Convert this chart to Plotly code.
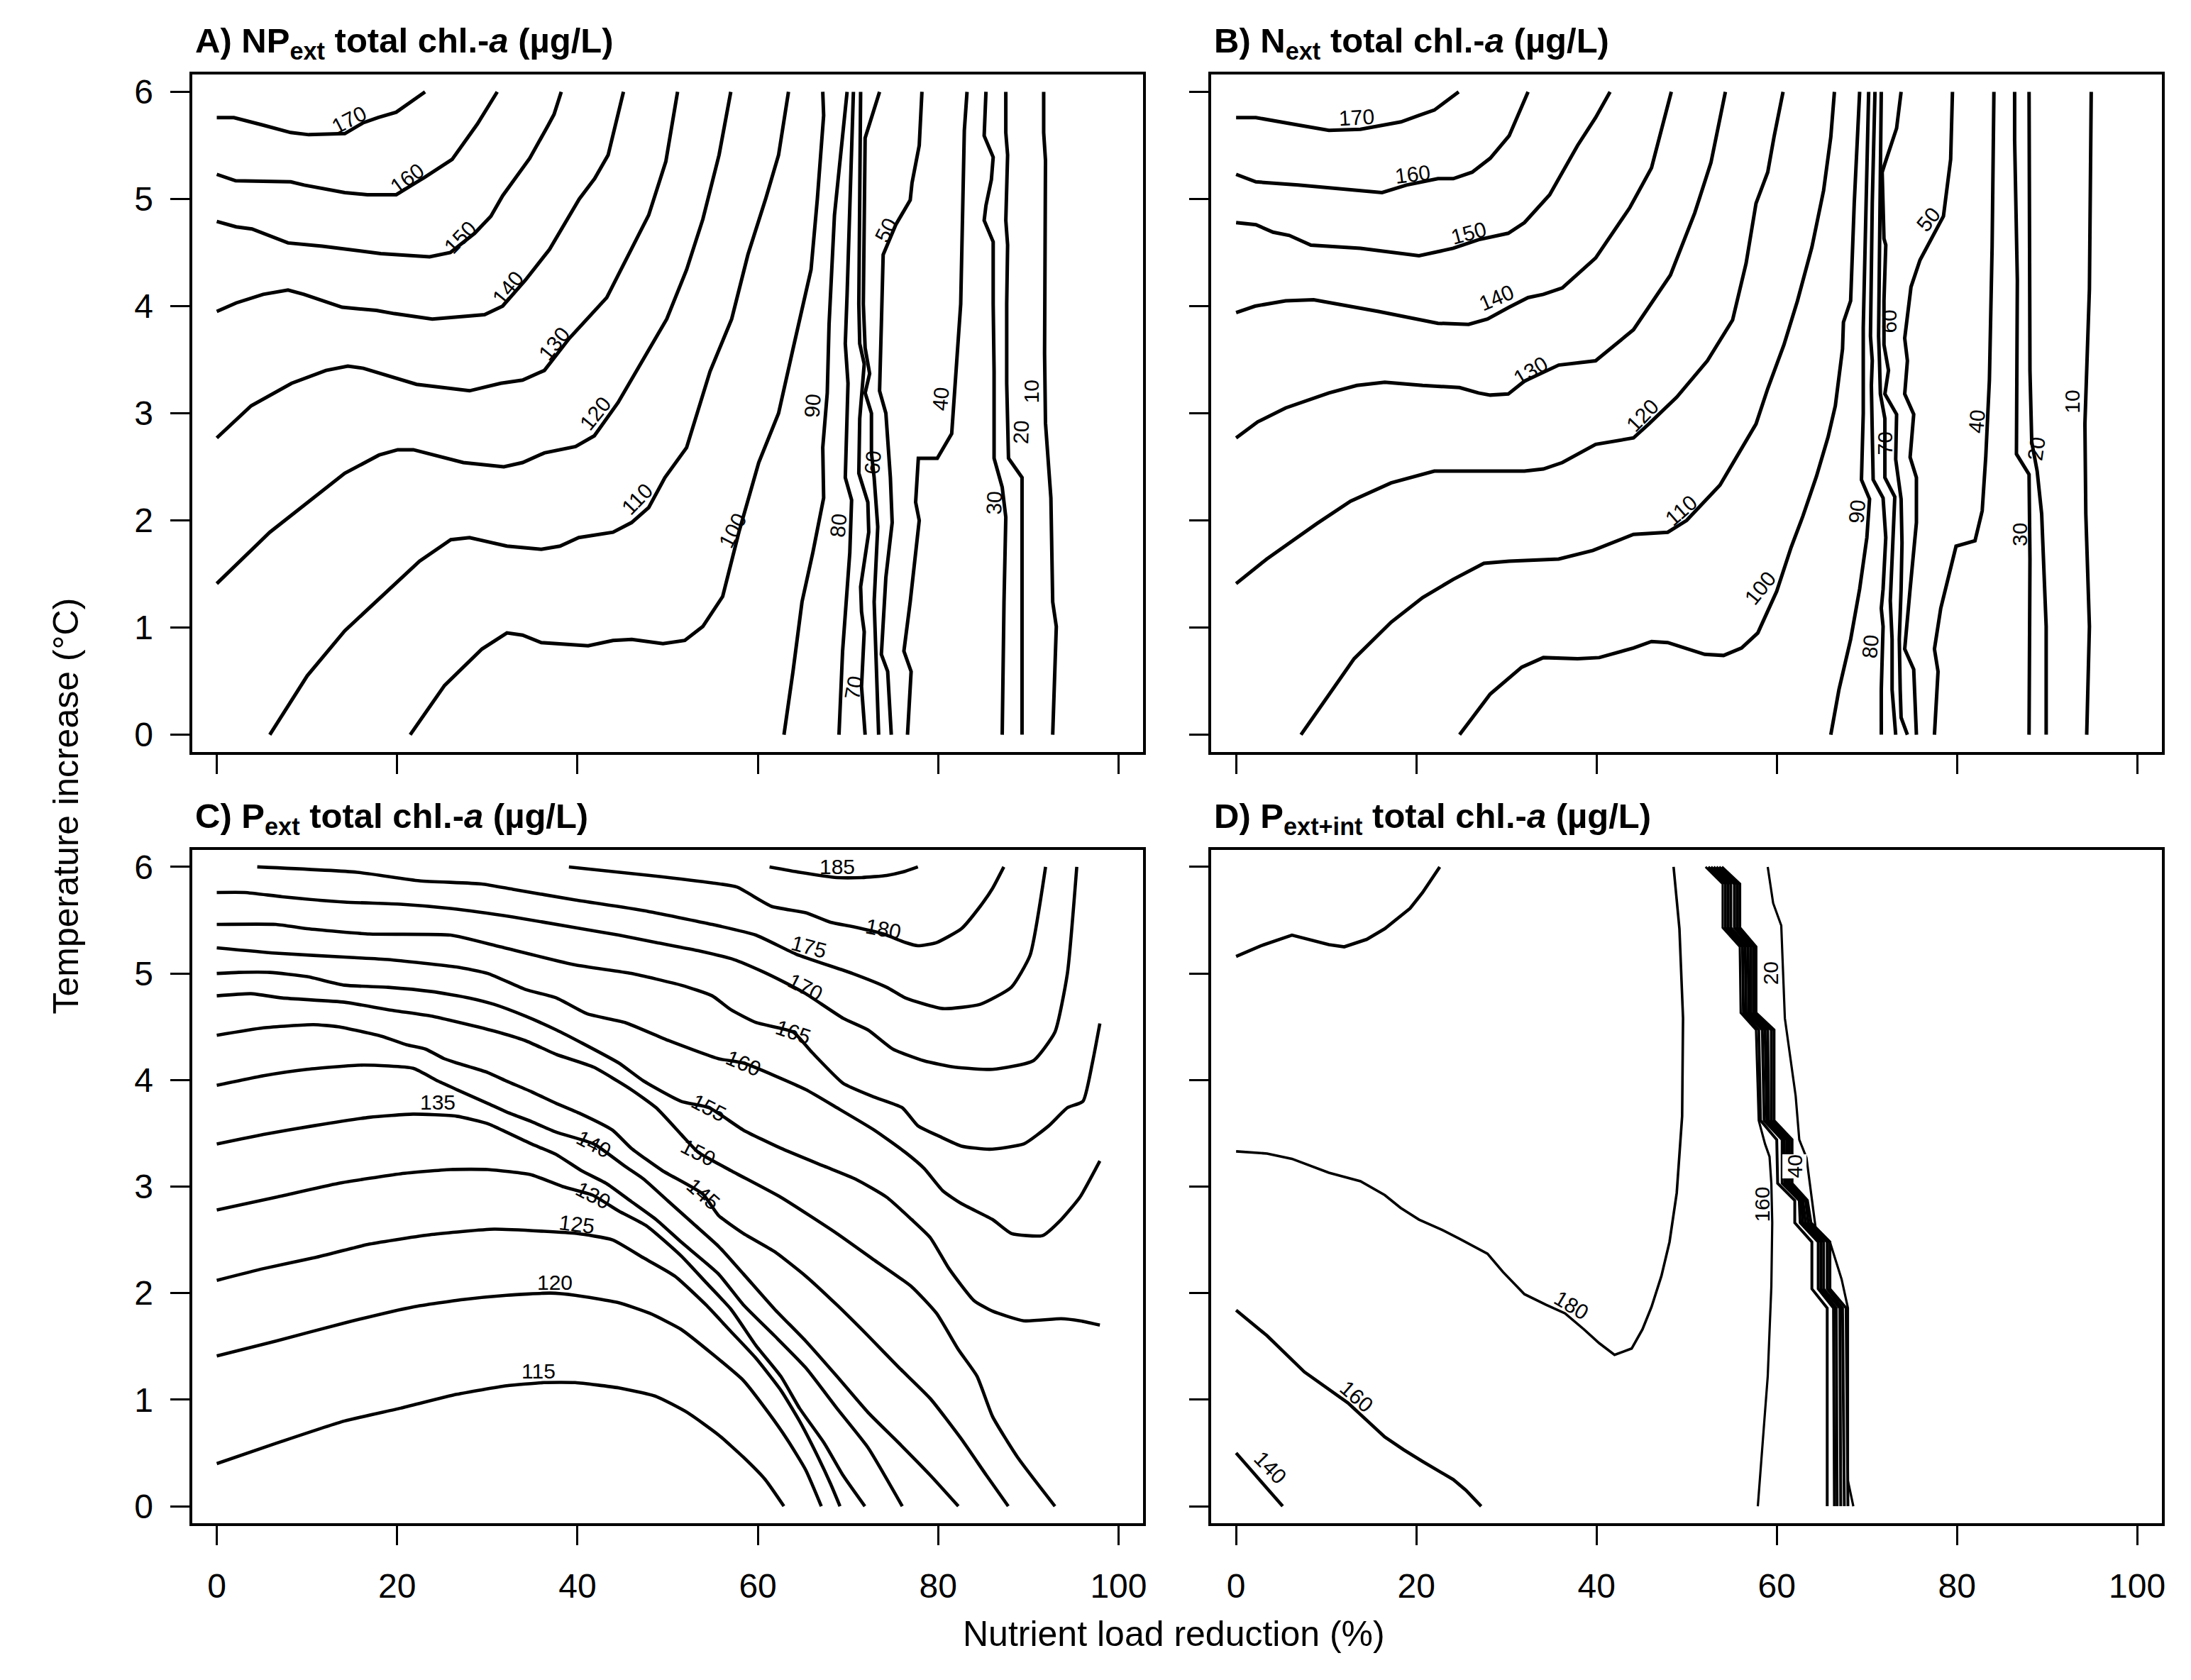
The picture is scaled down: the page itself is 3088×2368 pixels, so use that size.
import plotly.graph_objects as go

FONT = "Liberation Sans, Arial, Helvetica, sans-serif"

X_TICKS = [0, 20, 40, 60, 80, 100]
Y_TICKS = [0, 1, 2, 3, 4, 5, 6]

TITLES = [
    "<b>A) NP<sub>ext</sub> total chl.-<i>a</i> (µg/L)</b>",
    "<b>B) N<sub>ext</sub> total chl.-<i>a</i> (µg/L)</b>",
    "<b>C) P<sub>ext</sub> total chl.-<i>a</i> (µg/L)</b>",
    "<b>D) P<sub>ext+int</sub> total chl.-<i>a</i> (µg/L)</b>",
]

# ---------------- A) NPext : contour lines ----------------
A170_X = [0, 1.9, 5.1, 8.2, 10.2, 14.2, 16.2, 17.9, 19.9, 23.1]
A170_Y = [5.76, 5.76, 5.69, 5.62, 5.60, 5.61, 5.71, 5.76, 5.81, 6.0]
A160_X = [0, 2.1, 8.2, 9.7, 14.2, 16.7, 19.9, 23.0, 26.1, 28.9, 31.1]
A160_Y = [5.23, 5.17, 5.16, 5.13, 5.06, 5.04, 5.04, 5.20, 5.37, 5.70, 6.0]
A150_X = [0, 2.15, 3.9, 7.9, 11.7, 18.2, 23.6, 25.9, 28.6, 30.4, 31.7, 34.7, 36.7, 37.4, 38.2]
A150_Y = [4.79, 4.74, 4.72, 4.59, 4.56, 4.49, 4.46, 4.50, 4.68, 4.84, 5.03, 5.38, 5.68, 5.79, 6.0]
A140_X = [0, 2.15, 5.15, 7.9, 9.66, 13.9, 17.7, 19.7, 23.9, 26.7, 29.7, 31.7, 34.2, 36.9, 40.2, 41.9, 43.4, 45.1]
A140_Y = [3.95, 4.03, 4.11, 4.15, 4.11, 3.99, 3.96, 3.93, 3.88, 3.90, 3.92, 4.0, 4.24, 4.53, 5.0, 5.19, 5.41, 6.0]
A130_X = [0, 3.81, 8.30, 12.11, 14.53, 16.26, 22.15, 28.03, 31.49, 33.91, 36.33, 39.10, 43.25, 45.5, 47.9, 49.8, 51.1]
A130_Y = [2.77, 3.07, 3.28, 3.40, 3.44, 3.42, 3.27, 3.21, 3.28, 3.31, 3.40, 3.70, 4.08, 4.45, 4.85, 5.35, 6.0]
A120_X = [0, 5.88, 14.19, 17.99, 20.07, 21.80, 27.34, 31.83, 33.91, 36.33, 39.79, 41.87, 44.5, 47.3, 49.9, 52.1, 53.9, 55.7, 57.0]
A120_Y = [1.41, 1.89, 2.44, 2.61, 2.66, 2.66, 2.54, 2.50, 2.54, 2.63, 2.69, 2.79, 3.10, 3.51, 3.88, 4.34, 4.81, 5.41, 6.0]
A110_X = [5.88, 10.03, 14.19, 18.34, 22.49, 25.95, 28.03, 32.18, 35.99, 38.06, 40.14, 43.94, 46.0, 47.9, 49.7,
          52.1, 54.7, 57.1, 58.9, 60.9, 62.3, 63.4]
A110_Y = [0, 0.55, 0.97, 1.30, 1.62, 1.82, 1.84, 1.76, 1.73, 1.76, 1.84, 1.89, 1.98, 2.12, 2.40,
          2.68, 3.39, 3.88, 4.48, 5.01, 5.41, 6.0]
A100_X = [21.45, 25.26, 29.41, 32.18, 33.91, 35.99, 41.18, 43.94, 46.02, 49.48, 51.9, 53.9, 56.1, 57.9,
          60.1, 62.3, 63.9, 65.9, 66.6, 67.3, 67.2]
A100_Y = [0, 0.46, 0.80, 0.95, 0.93, 0.86, 0.83, 0.88, 0.89, 0.85, 0.88, 1.01, 1.29, 1.89,
          2.54, 3.0, 3.60, 4.34, 5.0, 5.78, 6.0]
A90_X = [69.9, 69.2, 68.5, 67.9, 67.7, 67.2, 67.3, 66.1, 64.9, 63.9, 62.9]
A90_Y = [6.0, 5.45, 4.85, 3.83, 3.19, 2.68, 2.21, 1.70, 1.24, 0.59, 0]
A80_X = [70.6, 70.4, 70.2, 69.9, 69.7, 70.0, 69.7, 70.4, 70.2, 69.8, 69.4, 69.0]
A80_Y = [6.0, 5.41, 4.76, 4.11, 3.65, 3.28, 2.40, 2.19, 1.70, 1.24, 0.78, 0]
A70_X = [71.4, 71.3, 71.2, 71.3, 71.8, 71.3, 71.2, 72.2, 72.3, 71.4, 71.5, 71.8, 71.5, 71.9]
A70_Y = [6, 5.31, 4.02, 3.65, 3.46, 2.95, 2.44, 2.17, 1.89, 1.38, 1.15, 0.96, 0.45, 0]
A60_X = [73.5, 71.9, 71.7, 71.9, 72.4, 71.9, 72.6, 72.6, 72.9, 73.3, 72.9, 73.1, 73.4]
A60_Y = [6, 5.57, 4.02, 3.61, 3.37, 3.19, 3.0, 2.63, 2.40, 1.94, 1.24, 0.64, 0]
A50_X = [78.2, 77.9, 77.1, 76.9, 75.3, 73.9, 73.7, 73.5, 74.2, 74.7, 74.9, 74.2, 73.7, 74.4, 74.8]
A50_Y = [6, 5.5, 5.15, 4.99, 4.76, 4.48, 3.83, 3.21, 3.0, 2.40, 1.98, 1.47, 0.75, 0.59, 0]
A40_X = [83.2, 82.9, 82.5, 82.1, 81.7, 81.5, 79.9, 77.8, 77.5, 77.9, 76.9, 76.2, 77.0, 76.6]
A40_Y = [6, 5.64, 4.02, 3.56, 3.09, 2.81, 2.58, 2.58, 2.17, 2.0, 1.24, 0.78, 0.59, 0]
A30_X = [85.3, 85.1, 86.1, 85.9, 85.3, 85.1, 86.1, 86.1, 86.2, 86.2, 87.1, 87.5, 87.3, 87.1]
A30_Y = [6, 5.59, 5.39, 5.18, 4.94, 4.80, 4.60, 4.02, 3.39, 2.58, 2.31, 2.03, 1.24, 0]
A20_X = [87.5, 87.5, 87.7, 87.6, 87.5, 87.7, 87.6, 87.6, 87.8, 89.3, 89.3, 89.3]
A20_Y = [6, 5.62, 5.41, 4.94, 4.80, 4.57, 4.02, 3.28, 2.58, 2.40, 1.24, 0]
A10_X = [91.7, 91.7, 91.9, 91.8, 91.9, 92.5, 92.7, 93.1, 92.7]
A10_Y = [6, 5.62, 5.36, 3.56, 2.91, 2.21, 1.24, 1.01, 0]

A_LAB = ["170", "160", "150", "140", "130", "120", "110", "100", "90", "80", "70", "60", "50", "40", "30", "20", "10"]
A_LAB_X = [14.7, 21.1, 27.0, 32.3, 37.4, 42.0, 46.6, 57.2, 66.1, 68.9, 70.6, 72.7, 74.2, 80.3, 86.2, 89.2, 90.3]
A_LAB_Y = [5.74, 5.19, 4.64, 4.17, 3.65, 3.0, 2.20, 1.91, 3.07, 1.95, 0.44, 2.54, 4.71, 3.13, 2.16, 2.82, 3.2]

# ---------------- B) Next ----------------
B170_X = [0, 2.2, 6.9, 10.3, 13.8, 18.3, 20.3, 22.0, 24.7]
B170_Y = [5.76, 5.76, 5.69, 5.64, 5.65, 5.72, 5.78, 5.83, 6.0]
B160_X = [0, 2.2, 6.9, 11.0, 16.2, 18.9, 22.4, 24.1, 26.2, 28.2, 30.3, 32.4]
B160_Y = [5.23, 5.16, 5.13, 5.10, 5.06, 5.13, 5.19, 5.19, 5.25, 5.38, 5.59, 6.0]
B150_X = [0, 2.2, 4.1, 5.9, 8.3, 13.8, 20.3, 24.1, 26.9, 30.2, 32.0, 34.8, 37.9, 39.9, 41.5]
B150_Y = [4.78, 4.76, 4.69, 4.66, 4.57, 4.54, 4.47, 4.54, 4.62, 4.68, 4.78, 5.04, 5.50, 5.76, 6.0]
B140_X = [0, 2.1, 5.5, 8.6, 15.8, 22.4, 25.8, 27.9, 30.3, 32.4, 34.1, 36.2, 39.9, 43.7, 46.1, 48.3]
B140_Y = [3.94, 4.0, 4.05, 4.06, 3.95, 3.84, 3.83, 3.88, 3.99, 4.08, 4.11, 4.17, 4.45, 4.92, 5.29, 6.0]
B130_X = [0, 2.4, 5.5, 10.3, 13.4, 16.5, 20.7, 24.8, 26.9, 28.2, 30.2, 32.0, 35.8, 39.9, 44.1, 48.2, 50.9, 52.7, 54.3]
B130_Y = [2.77, 2.92, 3.05, 3.19, 3.26, 3.29, 3.26, 3.24, 3.19, 3.17, 3.18, 3.30, 3.45, 3.49, 3.78, 4.29, 4.87, 5.34, 6.0]
B120_X = [0, 3.4, 8.95, 12.7, 17.2, 22.0, 25.5, 32.0, 34.1, 36.2, 39.9, 44.1, 45.8, 48.9, 52.3, 55.1, 56.6,
          57.7, 59.0, 59.7, 60.7]
B120_Y = [1.41, 1.64, 1.97, 2.18, 2.35, 2.46, 2.46, 2.46, 2.48, 2.54, 2.71, 2.77, 2.90, 3.15, 3.49, 3.87, 4.40,
          4.96, 5.25, 5.58, 6.0]
B110_X = [7.2, 10.3, 13.1, 17.2, 20.7, 24.1, 27.5, 30.3, 35.8, 39.6, 44.1, 47.9, 50.0, 53.7, 57.7, 59.0, 60.8,
          62.3, 63.9, 65.2, 66.0, 66.4]
B110_Y = [0, 0.38, 0.71, 1.05, 1.28, 1.45, 1.60, 1.62, 1.64, 1.72, 1.87, 1.89, 2.0, 2.33, 2.90, 3.23, 3.64,
          4.05, 4.55, 5.08, 5.58, 6.0]
B100_X = [24.8, 28.2, 31.7, 34.1, 37.9, 40.3, 44.1, 46.1, 47.9, 52.0, 54.1, 56.1, 57.9, 60.0, 61.6, 62.9, 64.4,
          65.7, 66.5, 67.3, 67.4, 68.2, 68.6, 68.9, 69.2]
B100_Y = [0, 0.38, 0.63, 0.72, 0.71, 0.72, 0.81, 0.87, 0.86, 0.75, 0.74, 0.81, 0.95, 1.34, 1.75, 2.04, 2.41,
          2.78, 3.07, 3.60, 3.85, 4.05, 4.96, 5.58, 6.0]
B90_X = [70.2, 69.9, 69.6, 69.6, 69.4, 70.3, 70.0, 69.6, 69.2, 68.2, 66.9, 66.0]
B90_Y = [6, 4.96, 3.8, 3.0, 2.38, 2.2, 1.84, 1.6, 1.36, 0.89, 0.42, 0]
B80_X = [70.9, 70.6, 70.4, 70.6, 70.5, 70.7, 71.8, 72.1, 71.8, 71.6, 71.8, 71.6, 71.6]
B80_Y = [6, 4.96, 3.72, 3.49, 3.26, 2.38, 2.21, 1.84, 1.36, 1.18, 1.01, 0.42, 0]
B70_X = [71.6, 71.5, 71.3, 71.4, 71.5, 72.0, 72.0, 73.1, 72.8, 72.6, 72.8, 72.8, 73.2]
B70_Y = [6, 4.96, 3.72, 3.49, 3.18, 2.95, 2.40, 2.22, 1.60, 1.25, 0.89, 0.42, 0]
B60_X = [73.8, 73.3, 72.0, 71.7, 71.9, 72.1, 71.9, 71.9, 72.4, 72.0, 73.3, 73.2, 73.8, 73.9, 73.8, 73.6, 73.7, 73.8, 74.5]
B60_Y = [6, 5.66, 5.33, 5.25, 4.63, 4.57, 4.05, 3.64, 3.40, 3.18, 2.99, 2.57, 2.20, 1.79, 1.36, 0.89, 0.42, 0.16, 0]
B50_X = [79.5, 79.3, 78.5, 77.0, 75.9, 74.9, 74.2, 74.5, 74.2, 75.2, 74.8, 75.5, 75.5, 74.8, 74.2, 75.2, 75.5]
B50_Y = [6, 5.37, 4.84, 4.61, 4.43, 4.18, 3.70, 3.49, 3.18, 2.99, 2.59, 2.40, 1.98, 1.36, 0.80, 0.61, 0]
B40_X = [84.1, 83.9, 83.6, 83.2, 82.8, 82.0, 79.9, 78.2, 77.5, 77.9, 77.5]
B40_Y = [6, 4.55, 3.31, 2.6, 2.09, 1.81, 1.76, 1.18, 0.80, 0.59, 0]
B30_X = [86.4, 86.4, 86.7, 86.6, 88.0, 88.1, 88.0]
B30_Y = [6, 5.55, 4.24, 2.62, 2.43, 1.64, 0]
B20_X = [88.0, 88.1, 88.3, 88.9, 89.4, 89.9, 89.9]
B20_Y = [6, 3.4, 2.73, 2.46, 2.06, 1.01, 0]
B10_X = [94.9, 94.7, 94.2, 94.3, 94.7, 94.4]
B10_Y = [6, 4.16, 2.90, 2.06, 1.01, 0]

B_LAB = ["170", "160", "150", "140", "130", "120", "110", "100", "90", "80", "70", "60", "50", "40", "30", "20", "10"]
B_LAB_X = [13.4, 19.6, 25.8, 28.9, 32.7, 45.1, 49.4, 58.2, 68.9, 70.4, 72.0, 72.5, 76.8, 82.2, 86.9, 88.8, 92.8]
B_LAB_Y = [5.76, 5.23, 4.68, 4.08, 3.40, 2.98, 2.09, 1.37, 2.08, 0.82, 2.72, 3.86, 4.81, 2.92, 1.87, 2.67, 3.11]

# ---------------- C) Pext ----------------
C185_X = [61.3, 64.62, 68.76, 71.53, 74.29, 76.37, 77.75]
C185_Y = [6.0, 5.95, 5.90, 5.90, 5.92, 5.96, 6.0]
C180_X = [39.05, 48.03, 54.94, 57.71, 61.51, 65.31, 68.07, 70.49, 73.95, 76.37, 77.75, 79.82, 82.58, 84.66, 86.04, 87.28]
C180_Y = [6.0, 5.92, 5.85, 5.81, 5.63, 5.57, 5.48, 5.44, 5.37, 5.29, 5.26, 5.29, 5.42, 5.63, 5.80, 6.0]
C175_X = [4.49, 15.55, 22.46, 29.37, 32.83, 39.74, 47.34, 54.94, 59.78, 64.27, 70.49, 74.29, 76.37, 80.51, 84.66,
          88.11, 90.19, 91.91]
C175_Y = [6.0, 5.95, 5.87, 5.84, 5.79, 5.69, 5.59, 5.46, 5.36, 5.18, 5.0, 4.87, 4.77, 4.67, 4.71, 4.87, 5.17, 6.0]
C170_X = [0, 3.11, 7.26, 14.17, 20.39, 25.92, 32.83, 39.74, 44.58, 48.72, 53.56, 57.36, 60.47, 62.89, 65.31, 69.45,
          72.22, 74.98, 78.44, 81.89, 86.04, 90.53, 92.95, 94.33, 95.37]
C170_Y = [5.76, 5.76, 5.72, 5.67, 5.65, 5.61, 5.53, 5.43, 5.36, 5.29, 5.21, 5.13, 5.02, 4.92, 4.81, 4.58, 4.47,
          4.29, 4.18, 4.12, 4.10, 4.18, 4.45, 5.0, 6.0]
C165_X = [0, 6.57, 10.02, 16.93, 25.92, 31.44, 39.74, 45.96, 51.49, 54.94, 57.01, 59.78, 63.92, 66.0, 69.45,
          72.91, 76.02, 77.75, 80.17, 82.58, 85.69, 89.5, 92.26, 94.33, 96.06, 97.1, 97.93]
C165_Y = [5.46, 5.46, 5.42, 5.37, 5.36, 5.25, 5.08, 5.0, 4.89, 4.79, 4.66, 4.54, 4.45, 4.26, 3.97, 3.84, 3.74,
          3.57, 3.47, 3.38, 3.35, 3.40, 3.57, 3.74, 3.80, 4.16, 4.53]
C160_X = [0, 6.57, 14.86, 19.0, 26.61, 30.06, 34.21, 37.66, 41.12, 45.27, 50.1, 55.63, 58.4, 65.31, 68.76,
          72.91, 76.37, 78.44, 80.51, 82.58, 86.04, 88.11, 91.57, 93.64, 95.72, 97.93]
C160_Y = [5.24, 5.19, 5.15, 5.13, 5.06, 5.0, 4.85, 4.77, 4.62, 4.54, 4.37, 4.20, 4.16, 3.91, 3.74, 3.53, 3.32,
          3.17, 2.96, 2.84, 2.69, 2.56, 2.54, 2.69, 2.90, 3.24]
C155_X = [0, 2.42, 5.87, 10.02, 14.17, 19.0, 23.84, 27.99, 30.75, 34.21, 37.66, 40.43, 44.58, 47.34, 51.49, 54.6,
          58.4, 62.54, 67.38, 70.84, 74.29, 77.06, 79.13, 81.2, 83.97, 86.04, 89.5, 93.64, 95.72, 97.93]
C155_Y = [5.0, 5.01, 5.01, 4.97, 4.89, 4.87, 4.83, 4.77, 4.71, 4.60, 4.47, 4.35, 4.16, 3.99, 3.80, 3.74, 3.53,
          3.36, 3.19, 3.07, 2.90, 2.69, 2.52, 2.23, 1.93, 1.83, 1.74, 1.76, 1.74, 1.70]
C150_X = [0, 3.8, 7.26, 14.17, 19.0, 23.84, 25.92, 30.75, 34.21, 37.66, 41.81, 45.96, 48.72, 51.49, 53.42, 57.01,
          62.54, 68.76, 72.91, 77.06, 79.82, 82.24, 84.31, 86.04, 88.8, 92.95]
C150_Y = [4.79, 4.81, 4.77, 4.73, 4.66, 4.60, 4.56, 4.46, 4.37, 4.24, 4.12, 3.91, 3.74, 3.49, 3.32, 3.15, 2.90,
          2.56, 2.31, 2.06, 1.81, 1.47, 1.22, 0.84, 0.46, 0]
C145_X = [0, 5.18, 10.71, 13.48, 18.31, 21.08, 23.15, 25.22, 26.61, 30.06, 32.14, 34.9, 37.66, 40.43, 43.88,
          45.96, 49.41, 53.9, 55.63, 58.4, 61.85, 65.31, 68.76, 72.22, 75.67, 79.13, 82.58, 85.35, 87.77]
C145_Y = [4.42, 4.49, 4.52, 4.50, 4.41, 4.33, 4.29, 4.20, 4.16, 4.07, 3.99, 3.89, 3.78, 3.68, 3.53, 3.36, 3.15,
          2.93, 2.73, 2.56, 2.39, 2.16, 1.89, 1.60, 1.30, 1.01, 0.63, 0.29, 0]
C140_X = [0, 5.18, 10.02, 16.24, 21.77, 24.53, 26.61, 30.06, 32.14, 34.9, 37.66, 41.81, 45.27, 47.34, 50.1,
          52.87, 55.63, 58.4, 61.85, 65.31, 68.76, 72.22, 75.67, 79.13, 82.24]
C140_Y = [3.95, 4.04, 4.10, 4.14, 4.11, 3.99, 3.91, 3.78, 3.70, 3.61, 3.51, 3.40, 3.19, 3.07, 2.86, 2.65, 2.44,
          2.18, 1.85, 1.55, 1.22, 0.88, 0.59, 0.29, 0]
C135_X = [0, 5.18, 10.71, 16.93, 21.77, 26.61, 30.06, 32.14, 34.9, 37.66, 40.43, 43.19, 45.96, 48.72, 51.49,
          55.63, 58.4, 61.85, 65.31, 68.76, 72.22, 76.02]
C135_Y = [3.40, 3.49, 3.57, 3.65, 3.68, 3.66, 3.59, 3.51, 3.40, 3.30, 3.15, 3.03, 2.86, 2.69, 2.48, 2.18, 1.89,
          1.60, 1.30, 0.92, 0.55, 0]
C130_X = [0, 6.57, 13.48, 20.39, 25.92, 30.06, 34.9, 38.36, 41.67, 44.58, 47.68, 51.49, 54.25, 57.01, 59.78,
          62.54, 64.62, 67.38, 69.45, 71.87]
C130_Y = [2.78, 2.90, 3.03, 3.12, 3.16, 3.16, 3.11, 3.00, 2.92, 2.77, 2.63, 2.35, 2.10, 1.85, 1.51, 1.22, 0.92,
          0.59, 0.29, 0]
C125_X = [0, 5.18, 10.71, 16.93, 23.84, 30.75, 36.28, 39.88, 43.88, 47.34, 50.79, 54.25, 57.01, 59.78, 62.54,
          64.62, 66.69, 68.07, 69.11]
C125_Y = [2.12, 2.23, 2.33, 2.46, 2.55, 2.60, 2.58, 2.56, 2.50, 2.33, 2.16, 1.89, 1.64, 1.39, 1.09, 0.80, 0.46,
          0.21, 0]
C120_X = [0, 6.57, 14.17, 21.77, 27.3, 32.14, 36.97, 39.74, 44.58, 48.03, 51.49, 54.94, 58.4, 61.16, 63.23,
          65.31, 67.04]
C120_Y = [1.41, 1.55, 1.72, 1.87, 1.94, 1.98, 2.0, 1.98, 1.91, 1.81, 1.66, 1.43, 1.18, 0.88, 0.63, 0.34, 0]
C115_X = [0, 6.57, 14.17, 20.39, 26.61, 32.14, 36.28, 39.74, 44.58, 48.72, 52.18, 55.63, 58.4, 60.82, 62.89]
C115_Y = [0.40, 0.59, 0.80, 0.92, 1.05, 1.13, 1.16, 1.16, 1.11, 1.03, 0.88, 0.67, 0.46, 0.25, 0]

C_LAB = ["185", "180", "175", "170", "165", "160", "155", "150", "145", "140", "135", "130", "125", "120", "115"]
C_LAB_X = [68.8, 73.95, 65.65, 65.3, 63.9, 58.4, 54.6, 53.4, 53.9, 41.8, 24.5, 41.7, 39.9, 37.5, 35.7]
C_LAB_Y = [6.0, 5.42, 5.25, 4.87, 4.45, 4.16, 3.74, 3.32, 2.93, 3.40, 3.79, 2.92, 2.65, 2.10, 1.27]

# ---------------- D) Pext+int ----------------
D200_X = [0, 2.75, 6.2, 10.3, 12.0, 14.5, 16.5, 19.3, 20.7, 22.6]
D200_Y = [5.16, 5.26, 5.36, 5.27, 5.25, 5.32, 5.42, 5.61, 5.76, 6.0]
D180_X = [0, 3.44, 6.2, 10.3, 13.8, 16.5, 18.25, 20.3, 22.7, 24.8, 27.9, 29.6, 32.0, 34.4, 36.5, 38.6, 40.3,
          42.0, 43.9, 45.1, 46.1, 47.2, 48.1, 48.9, 49.5, 49.6, 49.2, 48.55]
D180_Y = [3.33, 3.31, 3.26, 3.13, 3.05, 2.92, 2.80, 2.69, 2.60, 2.51, 2.37, 2.20, 1.99, 1.89, 1.81, 1.66, 1.53,
          1.42, 1.48, 1.66, 1.87, 2.16, 2.48, 2.94, 3.66, 4.58, 5.42, 6.0]
D160L_X = [0, 3.44, 7.58, 12.4, 16.5, 18.6, 20.7, 24.1, 25.5, 27.2]
D160L_Y = [1.84, 1.60, 1.26, 0.97, 0.65, 0.53, 0.42, 0.25, 0.15, 0]
D140_X = [0, 5.17]
D140_Y = [0.50, 0]
# staircase band of closely packed lines (levels 160 down to 20)
STEP_Y = [6.0, 5.84, 5.43, 5.25, 4.63, 4.47, 3.62, 3.44, 3.03, 2.87, 2.66, 2.48, 2.04, 1.86, 0]
D160R_X = [52.1, 54.0, 54.0, 55.9, 56.0, 57.7, 58.0, 58.3, 58.7, 59.2, 59.4, 59.5, 59.4, 59.0, 57.9]
D160R_Y = [6.0, 5.84, 5.43, 5.25, 4.63, 4.47, 3.62, 3.52, 3.40, 3.28, 3.03, 2.66, 2.06, 1.22, 0]
D140B_X = [52.4, 54.3, 54.3, 56.2, 56.3, 58.0, 58.2, 60.0, 60.1, 62.0, 62.0, 63.9, 63.9, 65.6, 65.6]
D120B_X = [52.7, 54.6, 54.6, 56.5, 56.6, 58.4, 58.6, 60.6, 60.6, 62.5, 62.6, 64.6, 64.6, 66.3, 66.4]
D100B_X = [53.0, 54.9, 54.9, 56.8, 56.9, 58.7, 58.9, 60.8, 60.9, 62.7, 62.9, 64.9, 64.9, 66.6, 66.7]
D80B_X = [53.3, 55.3, 55.3, 57.1, 57.1, 59.0, 59.1, 61.1, 61.1, 62.9, 63.2, 65.2, 65.2, 67.0, 67.1]
D60B_X = [53.6, 55.6, 55.6, 57.4, 57.4, 59.4, 59.4, 61.4, 61.4, 63.2, 63.5, 65.6, 65.6, 67.3, 67.5]
D40B_X = [53.9, 55.9, 55.9, 57.7, 57.7, 59.7, 59.7, 61.7, 61.7, 63.4, 63.8, 65.9, 65.9, 67.7, 67.9]
D20_X = [59.0, 59.6, 60.5, 60.9, 62.1, 62.5, 63.3, 63.9, 64.3, 65.9, 67.2, 67.9, 67.9, 67.9, 68.5]
D20_Y = [6.0, 5.66, 5.45, 4.58, 3.85, 3.44, 3.27, 2.87, 2.62, 2.48, 2.13, 1.86, 1.10, 0.24, 0]

D_LAB = ["140", "160", "180", "160", "40", "20"]
D_LAB_X = [3.8, 13.4, 37.2, 58.3, 62.0, 59.3]
D_LAB_Y = [0.36, 1.03, 1.89, 2.83, 3.19, 5.0]

# ---------------- assemble ----------------
panels = [
    dict(lines=[(A170_X, A170_Y), (A160_X, A160_Y), (A150_X, A150_Y), (A140_X, A140_Y), (A130_X, A130_Y),
                (A120_X, A120_Y), (A110_X, A110_Y), (A100_X, A100_Y), (A90_X, A90_Y), (A80_X, A80_Y),
                (A70_X, A70_Y), (A60_X, A60_Y), (A50_X, A50_Y), (A40_X, A40_Y), (A30_X, A30_Y),
                (A20_X, A20_Y), (A10_X, A10_Y)],
         widths=[5] * 17,
         labels=(A_LAB, A_LAB_X, A_LAB_Y),
         angles=[-27, -36, -46, -51, -51, -51, -46, -63, -85, -85, -80, -85, -63, -85, -88, -88, -90]),
    dict(lines=[(B170_X, B170_Y), (B160_X, B160_Y), (B150_X, B150_Y), (B140_X, B140_Y), (B130_X, B130_Y),
                (B120_X, B120_Y), (B110_X, B110_Y), (B100_X, B100_Y), (B90_X, B90_Y), (B80_X, B80_Y),
                (B70_X, B70_Y), (B60_X, B60_Y), (B50_X, B50_Y), (B40_X, B40_Y), (B30_X, B30_Y),
                (B20_X, B20_Y), (B10_X, B10_Y)],
         widths=[5] * 17,
         labels=(B_LAB, B_LAB_X, B_LAB_Y),
         angles=[-3, -7, -15, -23, -31, -46, -41, -51, -85, -85, -90, -90, -51, -85, -90, -82, -90]),
    dict(lines=[(C185_X, C185_Y), (C180_X, C180_Y), (C175_X, C175_Y), (C170_X, C170_Y), (C165_X, C165_Y),
                (C160_X, C160_Y), (C155_X, C155_Y), (C150_X, C150_Y), (C145_X, C145_Y), (C140_X, C140_Y),
                (C135_X, C135_Y), (C130_X, C130_Y), (C125_X, C125_Y), (C120_X, C120_Y), (C115_X, C115_Y)],
         widths=[4.6] * 15,
         labels=(C_LAB, C_LAB_X, C_LAB_Y),
         angles=[0, 11, 15, 27, 19, 23, 27, 27, 41, 27, 0, 27, 7, 0, 0]),
    dict(lines=[(D200_X, D200_Y), (D180_X, D180_Y), (D160L_X, D160L_Y), (D140_X, D140_Y),
                (D160R_X, D160R_Y), (D140B_X, STEP_Y), (D120B_X, STEP_Y), (D100B_X, STEP_Y),
                (D80B_X, STEP_Y), (D60B_X, STEP_Y), (D40B_X, STEP_Y), (D20_X, D20_Y)],
         widths=[4.6, 3.6, 4.6, 4.6, 3.2, 4, 4, 4, 4, 4, 4, 3.2],
         labels=(D_LAB, D_LAB_X, D_LAB_Y),
         angles=[46, 41, 31, -90, -90, -90]),
]

W, H = 3088, 2368
X_DOMAINS = [[263 / W, 1606 / W], [1702 / W, 3044 / W]]
Y_DOMAINS = [[1 - 1052 / H, 1 - 95.5 / H], [1 - 2141.6 / H, 1 - 1190.4 / H]]

fig = go.Figure()
annotations = []

for i, p in enumerate(panels):
    row, col = divmod(i, 2)
    n = "" if i == 0 else str(i + 1)
    xa, ya = "x" + n, "y" + n
    for (xs, ys), w in zip(p["lines"], p["widths"]):
        fig.add_trace(go.Scatter(x=xs, y=ys, mode="lines", xaxis=xa, yaxis=ya,
                                 line=dict(color="black", width=w,
                                           shape="spline" if i == 2 else "linear", smoothing=0.5),
                                 hoverinfo="skip", showlegend=False))
    texts, lx, ly = p["labels"]
    for t, x, y, a in zip(texts, lx, ly, p["angles"]):
        annotations.append(dict(x=x, y=y, xref=xa, yref=ya, text=t, showarrow=False, textangle=a,
                                font=dict(family=FONT, size=30, color="black"),
                                bgcolor="white" if (i == 3 and t == "40") else None, borderpad=0))

    common = dict(showline=True, linecolor="black", linewidth=4, mirror=True,
                  ticks="outside", ticklen=27, tickwidth=3, tickcolor="black",
                  showgrid=False, zeroline=False,
                  tickfont=dict(family=FONT, size=48, color="black"))
    fig.layout["xaxis" + n] = dict(common, domain=X_DOMAINS[col], range=[-2.75, 102.75],
                                   tickvals=X_TICKS, showticklabels=(row == 1), anchor=ya,
                                   ticklabelstandoff=16)
    fig.layout["yaxis" + n] = dict(common, domain=Y_DOMAINS[row], range=[-0.16, 6.16],
                                   tickvals=Y_TICKS, showticklabels=(col == 0), anchor=xa,
                                   ticklabelstandoff=14)

    annotations.append(dict(x=X_DOMAINS[col][0] + 2 / W, y=Y_DOMAINS[row][1] + 12 / H,
                            xref="paper", yref="paper", xanchor="left", yanchor="bottom",
                            text=TITLES[i], showarrow=False,
                            font=dict(family=FONT, size=49, color="black")))

annotations.append(dict(x=1649 / W, y=1 - 2328 / H, xref="paper", yref="paper",
                        text="Nutrient load reduction (%)", showarrow=False,
                        font=dict(family=FONT, size=50, color="black")))
annotations.append(dict(x=55 / W, y=1 - 1128 / H, xref="paper", yref="paper", textangle=-90,
                        text="Temperature increase (°C)", showarrow=False,
                        font=dict(family=FONT, size=50, color="black")))

fig.update_layout(width=W, height=H, margin=dict(l=0, r=0, t=0, b=0),
                  paper_bgcolor="white", plot_bgcolor="white",
                  annotations=annotations, showlegend=False)

fig.write_html("out.html")
